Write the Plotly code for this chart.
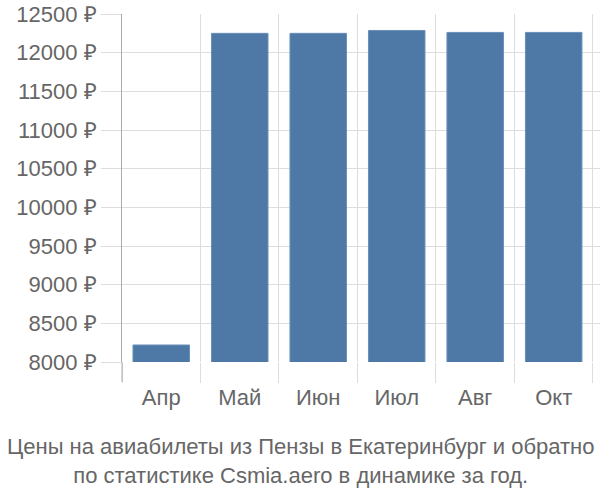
import plotly.graph_objects as go

months = ["Апр", "Май", "Июн", "Июл", "Авг", "Окт"]
prices = [8220, 12250, 12250, 12287, 12262, 12262]
y_ticks = [8000, 8500, 9000, 9500, 10000, 10500, 11000, 11500, 12000, 12500]
y_tick_labels = [f"{v} ₽" for v in y_ticks]
title_lines = ["Цены на авиабилеты из Пензы в Екатеринбург и обратно",
               "по статистике Csmia.aero в динамике за год."]

FONT = "Liberation Sans"
GRAY = "#666666"
GRID = "#dddddd"

fig = go.Figure()
fig.add_trace(go.Bar(
    x=months, y=prices,
    marker=dict(color="#4e79a7", line=dict(color="#6a8fb8", width=1)),
    width=0.72,
))

fig.update_layout(
    width=600, height=500,
    margin=dict(l=122, r=0, t=14, b=138),
    paper_bgcolor="white", plot_bgcolor="white",
    showlegend=False,
    font=dict(family=FONT, size=22, color=GRAY),
)
fig.update_xaxes(
    type="category",
    range=[-0.5, 5.59],
    tickson="boundaries",
    ticks="outside", ticklen=20, tickcolor=GRID, tickwidth=1,
    ticklabelstandoff=20,
    showgrid=True, gridcolor=GRID, gridwidth=1,
    showline=False, zeroline=False,
    tickfont=dict(family=FONT, size=22, color=GRAY),
)
fig.update_yaxes(
    range=[8000, 12500],
    tickvals=y_ticks, ticktext=y_tick_labels,
    ticks="outside", ticklen=20, tickcolor=GRID, tickwidth=1,
    showgrid=True, gridcolor=GRID, gridwidth=1,
    showline=True, linecolor="#aaaaaa", linewidth=1,
    zeroline=False,
    tickfont=dict(family=FONT, size=22, color=GRAY),
)
# extend the left axis line down through the tick area
fig.add_shape(type="line", xref="paper", yref="paper",
              x0=0, x1=0, y0=-20 / 348, y1=0,
              line=dict(color="#aaaaaa", width=1))

fig.add_annotation(
    text="<br>".join(title_lines),
    xref="paper", yref="paper", x=(300 - 122) / 478, y=-(460.5 - 362) / 348,
    xanchor="center", yanchor="middle", showarrow=False,
    font=dict(family=FONT, size=22, color=GRAY),
)

fig.write_html("out.html")
